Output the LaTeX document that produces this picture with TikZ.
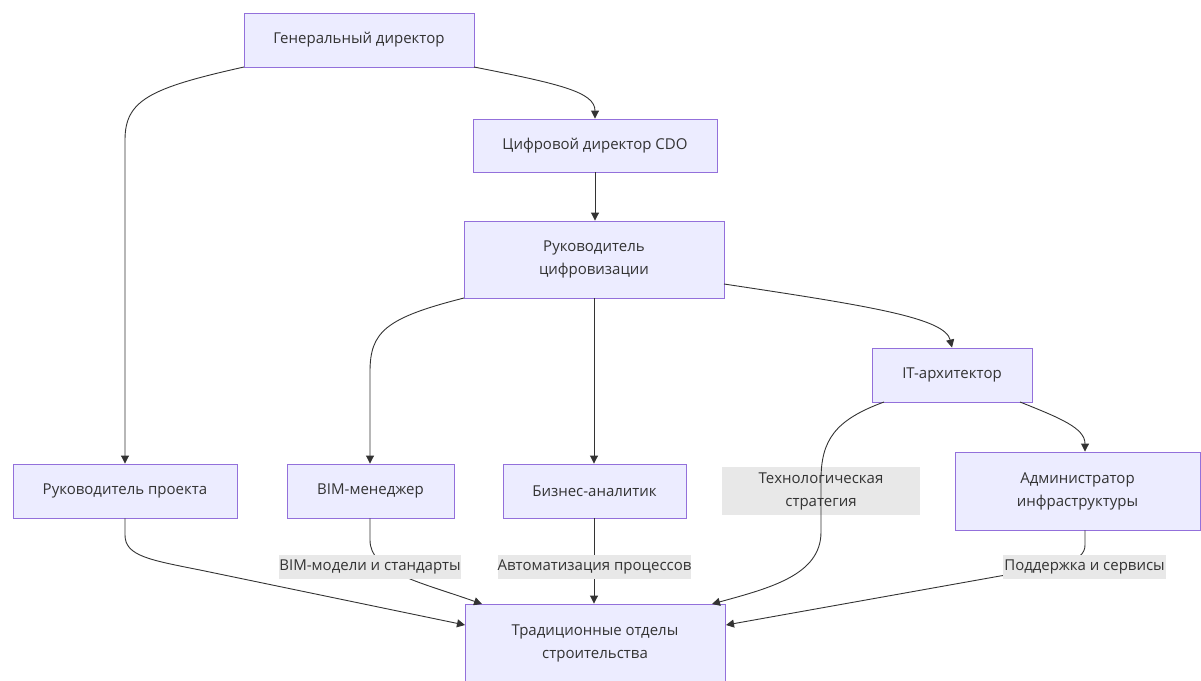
\documentclass[tikz,border=0pt]{standalone}
\usepackage{fontspec}
\setmainfont{Open Sans}
\usetikzlibrary{arrows.meta}
\definecolor{boxfill}{HTML}{ECECFF}
\definecolor{boxline}{HTML}{9370DB}
\definecolor{ink}{HTML}{333333}
\definecolor{lblbg}{HTML}{E8E8E8}
\tikzset{
  role/.style={draw=boxline, fill=boxfill, line width=0.9pt, text=ink,
    font=\fontsize{15}{23}\selectfont, align=center, inner sep=0pt},
  tag/.style={fill=lblbg, text=ink, font=\fontsize{15}{23}\selectfont,
    align=center, inner sep=0pt},
  link/.style={draw=ink, line width=0.9pt,
    -{Triangle[length=8pt,width=8pt]}},
}
\begin{document}
\begin{tikzpicture}[x=1pt,y=-1pt]
\useasboundingbox (0,0) rectangle (1201,680);
% boxes
\node[role, minimum width=230pt, minimum height=54pt] (gd)  at (359,40)   {Генеральный директор};
\node[role, minimum width=244pt, minimum height=53pt] (cdo) at (595,145.5) {Цифровой директор CDO};
\node[role, minimum width=260pt, minimum height=77pt] (rc)  at (594,259.5) {Руководитель\\цифровизации};
\node[role, minimum width=160pt, minimum height=54pt] (it)  at (952,375)   {IT-архитектор};
\node[role, minimum width=224pt, minimum height=54pt] (rp)  at (125,491)   {Руководитель проекта};
\node[role, minimum width=167pt, minimum height=54pt] (bim) at (370.5,491) {BIM-менеджер};
\node[role, minimum width=183pt, minimum height=54pt] (ba)  at (594.5,491) {Бизнес-аналитик};
\node[role, minimum width=245pt, minimum height=78pt] (adm) at (1077.5,491) {Администратор\\инфраструктуры};
\node[role, minimum width=260pt, minimum height=78pt] (to)  at (595,643)   {Традиционные отделы\\строительства};

% connector bends
\coordinate (gdL) at (244,67);
\coordinate (gdR) at (474,67);
\coordinate (rcL) at (464,298);
\coordinate (rcR) at (724,284);
\coordinate (itL) at (884,402);
\coordinate (itR) at (1020,402);
\coordinate (toBIM) at (482,604);
\coordinate (toTech) at (712,604);
\coordinate (toL) at (465,625);
\coordinate (toR) at (726,625);

% technology-strategy tag lies under its own line
\node[tag, minimum width=198pt, minimum height=48pt] (tech) at (821,491) {Технологическая\\стратегия};

% connectors
\draw[link] (gdL) .. controls (150,88) and (125,100) .. (125,140) -- (rp.north);
\draw[link] (gdR) .. controls (560,84) and (595,92) .. (cdo.north);
\draw[link] (cdo.south) -- (rc.north -| cdo.south);
\draw[link] (rcL) .. controls (385,318) and (370,332) .. (370,372) -- (bim.north -| 370,0);
\draw[link] (rc.south) -- (ba.north -| rc.south);
\draw[link] (rcR) .. controls (870,306) and (945,318) .. (it.north);
\draw[link] (itR) .. controls (1060,418) and (1085,428) .. (adm.north -| 1085,0);
\draw[link] (itL) .. controls (835,420) and (821,440) .. (821,480) -- (821,532)
  .. controls (821,575) and (770,588) .. (toTech);
\draw[link] (rp.south) -- (125,535) .. controls (125,556) and (150,560) .. (200,570) -- (toL);
\draw[link] (bim.south -| 370,0) -- (370,540) .. controls (370,572) and (420,582) .. (toBIM);
\draw[link] (ba.south -| 594,0) -- (to.north -| 594,0);
\draw[link] (adm.south -| 1085,0) -- (1085,545) .. controls (1085,562) and (1060,566) .. (1000,576) -- (toR);

% edge tags
\node[tag, minimum width=180pt, minimum height=24pt] (lbim)  at (370,567)    {BIM-модели и стандарты};
\node[tag, minimum width=193pt, minimum height=24pt] (lauto) at (594.5,567)  {Автоматизация процессов};
\node[tag, minimum width=163pt, minimum height=24pt] (lsup)  at (1084.5,567) {Поддержка и сервисы};
\end{tikzpicture}
\end{document}
